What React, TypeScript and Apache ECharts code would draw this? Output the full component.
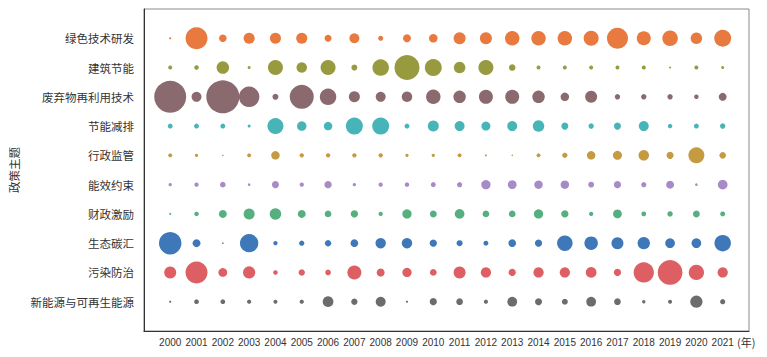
import React, { useEffect, useRef } from "react";
import * as echarts from "echarts";

const years = ["2000","2001","2002","2003","2004","2005","2006","2007","2008","2009","2010","2011","2012","2013","2014","2015","2016","2017","2018","2019","2020","2021"];

// topics listed top to bottom
const topics = ["绿色技术研发","建筑节能","废弃物再利用技术","节能减排","行政监管","能效约束","财政激励","生态碳汇","污染防治","新能源与可再生能源"];

const colors = ["#E8793F","#979A3F","#8A6A6F","#47B5B8","#C59A40","#A78BC6","#55AF7E","#3F78B8","#DE5F63","#6C6C6E"];

const greenTech = [2,215,25,54,54,54,22,44,11,28,32,64,64,93,93,93,100,196,87,107,59,128];
const building = [7,9,69,4,100,49,100,16,121,278,128,59,100,19,7,7,7,7,7,2,7,4];
const wasteReuse = [455,44,484,187,16,256,121,54,44,49,93,69,87,87,69,32,64,13,13,13,9,28];
const energySaving = [11,11,11,4,114,40,32,128,128,11,54,44,36,44,59,22,13,22,44,9,11,13];
const administration = [7,5,1,7,32,8,8,8,8,5,5,7,2,1,7,12,32,36,49,22,114,19];
const efficiency = [5,8,14,3,22,8,24,5,8,9,11,12,38,34,32,32,15,23,12,28,3,42];
const fiscal = [2,9,28,54,59,28,20,24,8,38,21,42,20,20,38,24,8,34,10,13,21,11];
const carbonSink = [225,28,1,149,8,12,18,26,48,48,23,16,11,26,23,107,81,64,67,42,42,121];
const pollution = [64,215,34,67,9,18,14,87,28,38,20,64,47,23,47,47,51,23,183,271,104,47];
const newEnergy = [2,10,10,8,7,8,51,18,44,2,23,20,8,42,22,16,42,20,5,7,67,12];

const seriesValues = [greenTech, building, wasteReuse, energySaving, administration, efficiency, fiscal, carbonSink, pollution, newEnergy];

export default function App() {
  const ref = useRef<HTMLDivElement>(null);
  useEffect(() => {
    document.body.style.margin = "0";
    if (!ref.current) return;
    const chart = echarts.init(ref.current, null, { renderer: "svg" });
    const xCats = ["", ...years, ""];
    const yCats = ["", ...topics.slice().reverse(), ""];
    const font = "'Noto Sans CJK SC', 'Noto Sans', sans-serif";
    const numFont = "'Liberation Sans', Arial, sans-serif";
    chart.setOption({
      animation: false,
      grid: { left: 135, right: 18, top: 9, bottom: 26, show: true, borderColor: "#8a8a8a", borderWidth: 1 },
      xAxis: {
        type: "category",
        data: xCats,
        boundaryGap: false,
        axisLine: { lineStyle: { color: "#333", width: 1 } },
        axisTick: { inside: true, length: 5, interval: (i: number) => i > 0 && i < xCats.length - 1, lineStyle: { color: "#333" } },
        axisLabel: { interval: 0, color: "#333", fontSize: 10, fontFamily: numFont, margin: 6 },
        splitLine: { show: false },
      },
      yAxis: {
        type: "category",
        data: yCats,
        boundaryGap: false,
        name: "政策主题",
        nameLocation: "middle",
        nameGap: 120,
        nameRotate: 90,
        nameTextStyle: { color: "#333", fontSize: 11.5, fontFamily: font },
        axisLine: { lineStyle: { color: "#333", width: 1 } },
        axisTick: { inside: true, length: 5, interval: (i: number) => i > 0 && i < yCats.length - 1, lineStyle: { color: "#333" } },
        axisLabel: { interval: 0, color: "#333", fontSize: 11.5, fontFamily: font, margin: 10 },
        splitLine: { show: false },
      },
      graphic: [
        { type: "text", left: 737, top: 336, style: { text: "(年)", fill: "#333", fontSize: 11, fontFamily: font } },
      ],
      series: topics.map((t, si) => ({
        type: "scatter",
        name: t,
        data: seriesValues[si].map((v, yi) => [years[yi], t, v]),
        symbolSize: (val: any) => Math.sqrt(val[2]) * 1.5,
        itemStyle: { color: colors[si], opacity: 1 },
        emphasis: { disabled: true },
      })),
    });
    return () => chart.dispose();
  }, []);
  return <div ref={ref} style={{ width: 767, height: 357 }} />;
}
